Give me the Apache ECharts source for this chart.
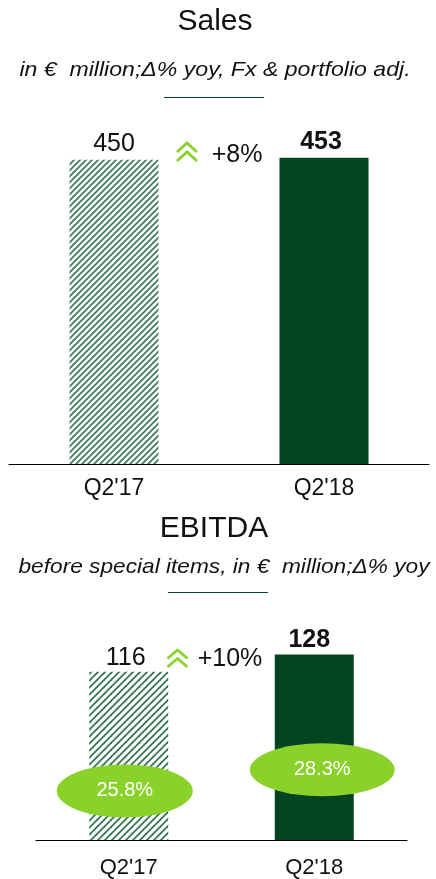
<!DOCTYPE html>
<html>
<head>
<meta charset="utf-8">
<script src="https://cdn.jsdelivr.net/npm/echarts@6/dist/echarts.min.js"></script>
<style>
  html, body { margin: 0; padding: 0; background: #ffffff; }
  #chart { width: 436px; height: 879px; }
</style>
</head>
<body>
<div id="chart"></div>
<script>
// Quarter categories shared by both panels
const categories = ["Q2'17", "Q2'18"];
// Sales, € million
const salesValues = [450, 453];
// EBITDA before special items, € million
const ebitdaValues = [116, 128];
// EBITDA margin, %
const marginValues = [25.8, 28.3];
// Year-over-year change labels
const salesGrowth = '+8%';
const ebitdaGrowth = '+10%';

const FONT = '"Liberation Sans", Arial, sans-serif';
const DARK = '#034421';
const LIME = '#8ad22a';
const INK = '#111111';

// Diagonal hatch tile used for the prior-year bars
function hatch(period, width, color) {
  const c = document.createElement('canvas');
  c.width = period; c.height = period;
  const g = c.getContext('2d');
  g.fillStyle = '#ffffff';
  g.fillRect(0, 0, period, period);
  g.strokeStyle = color;
  g.lineWidth = width;
  g.lineCap = 'square';
  for (const o of [-period, 0, period]) {
    g.beginPath();
    g.moveTo(o, period);
    g.lineTo(o + period, 0);
    g.stroke();
  }
  return { image: c, repeat: 'repeat' };
}

const chart = echarts.init(document.getElementById('chart'), null, { renderer: 'canvas' });

function chevron(cx, top, half, step, drop) {
  return [0, 1].map(i => ({
    type: 'polyline',
    shape: { points: [[cx - half, top + i * step + drop], [cx, top + i * step], [cx + half, top + i * step + drop]] },
    style: { stroke: LIME, lineWidth: 2.8, fill: null }
  }));
}

function centeredText(x, y, text, font, scaleX) {
  return {
    type: 'text', x: x, y: y, scaleX: scaleX || 1, originX: 0, originY: 0,
    style: { text: text, font: font, fill: INK, align: 'center', verticalAlign: 'middle' }
  };
}

const option = {
  backgroundColor: '#ffffff',
  animation: false,
  grid: [
    { left: 9, right: 7, top: 126, bottom: 415 },
    { left: 36, right: 29, top: 637, bottom: 39 }
  ],
  xAxis: [
    {
      type: 'category', gridIndex: 0, data: categories,
      axisLine: { lineStyle: { color: '#000', width: 1.2 } },
      axisTick: { show: false },
      axisLabel: { color: INK, fontSize: 23, fontFamily: FONT, margin: 13 }
    },
    {
      type: 'category', gridIndex: 1, data: categories,
      axisLine: { lineStyle: { color: '#000', width: 1.2 } },
      axisTick: { show: false },
      axisLabel: { color: INK, fontSize: 22, fontFamily: FONT, margin: 17 }
    }
  ],
  yAxis: [
    { type: 'value', gridIndex: 0, min: 0, max: 500, show: false },
    { type: 'value', gridIndex: 1, min: 0, max: 140, show: false },
    { type: 'value', gridIndex: 1, min: 20, max: 44, show: false }
  ],
  series: [
    {
      type: 'bar', xAxisIndex: 0, yAxisIndex: 0, barWidth: 89,
      data: [
        { value: salesValues[0], itemStyle: { color: hatch(6, 1.7, '#3b7b58') },
          label: { fontWeight: 'normal', distance: 3 } },
        { value: salesValues[1], itemStyle: { color: DARK },
          label: { fontWeight: 'bold', distance: 3, offset: [-3, 0] } }
      ],
      label: { show: true, position: 'top', color: INK, fontSize: 25, fontFamily: FONT }
    },
    {
      type: 'bar', xAxisIndex: 1, yAxisIndex: 1, barWidth: 79,
      data: [
        { value: ebitdaValues[0], itemStyle: { color: hatch(7, 1.9, '#3b7b58') },
          label: { fontWeight: 'normal', distance: 1, offset: [-3, 0] } },
        { value: ebitdaValues[1], itemStyle: { color: DARK },
          label: { fontWeight: 'bold', distance: 2, offset: [-5, 0] } }
      ],
      label: { show: true, position: 'top', color: INK, fontSize: 25, fontFamily: FONT }
    },
    {
      type: 'scatter', xAxisIndex: 1, yAxisIndex: 2, z: 5,
      symbol: 'path://M0,50 A50,50 0 1,1 100,50 A50,50 0 1,1 0,50 Z',
      itemStyle: { color: LIME, opacity: 1 },
      data: [
        { value: marginValues[0], symbolSize: [136, 53], symbolOffset: [-4, 0] },
        { value: marginValues[1], symbolSize: [145, 53], symbolOffset: [8, 0] }
      ],
      label: {
        show: true, position: 'inside', color: '#ffffff', fontSize: 20, fontFamily: FONT,
        formatter: p => p.value.toFixed(1) + '%'
      }
    }
  ],
  graphic: [
    centeredText(215, 22, 'Sales', '30px ' + FONT),
    centeredText(215, 70, 'in €  million;Δ% yoy, Fx & portfolio adj.', 'italic 21px ' + FONT, 1.1),
    { type: 'line', shape: { x1: 164, y1: 97.5, x2: 264, y2: 97.5 }, style: { stroke: '#0b4826', lineWidth: 1 } },
    ...chevron(187, 143, 10, 9, 9),
    centeredText(237, 155, salesGrowth, '25px ' + FONT),

    centeredText(214, 529, 'EBITDA', '30px ' + FONT),
    centeredText(224, 567, 'before special items, in €  million;Δ% yoy', 'italic 21px ' + FONT, 1.08),
    { type: 'line', shape: { x1: 168, y1: 592.5, x2: 268, y2: 592.5 }, style: { stroke: '#0b4826', lineWidth: 1 } },
    ...chevron(177.5, 650, 10, 8.5, 8.5),
    centeredText(230, 659, ebitdaGrowth, '25px ' + FONT)
  ]
};

chart.setOption(option);
</script>
</body>
</html>
